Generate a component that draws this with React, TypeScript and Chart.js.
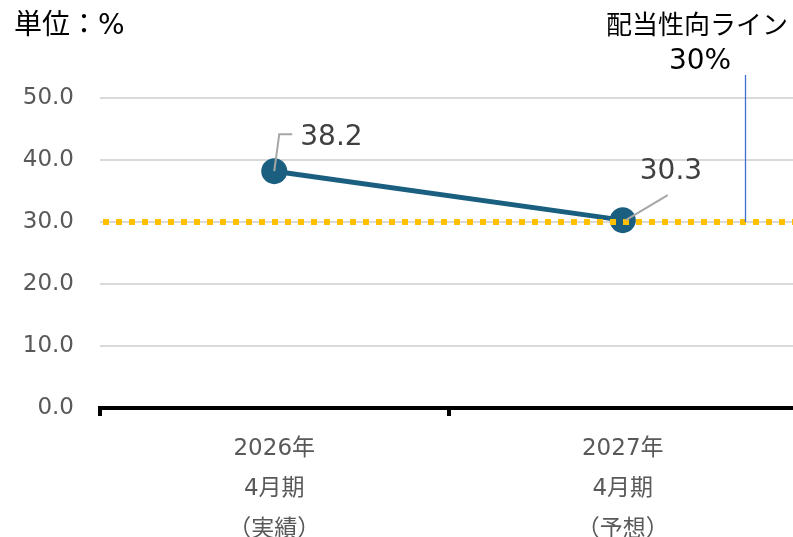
import React, { useEffect, useRef } from "react";
import { Chart, registerables } from "chart.js";

Chart.register(...registerables);

const categories: string[][] = [
  ["2026年", "4月期", "（実績）"],
  ["2027年", "4月期", "（予想）"],
];
const payoutRatio: number[] = [38.2, 30.3];
const thresholdValue = 30;
const yTicksMax = 50;
const yStep = 10;
const unitLabel = "単位：%";
const thresholdLabel = ["配当性向ライン", "30%"];

const FONT = "'DejaVu Sans', 'Noto Sans CJK JP', sans-serif";

const overlayPlugin = {
  id: "overlay",
  afterDatasetsDraw(chart: any) {
    const { ctx, chartArea, scales } = chart;
    const xs = scales.x;
    const ys = scales.y;
    const yT = ys.getPixelForValue(thresholdValue);
    ctx.save();
    // dotted threshold line
    ctx.strokeStyle = "#FFC000";
    ctx.lineWidth = 6;
    ctx.setLineDash([6, 7]);
    ctx.beginPath();
    ctx.moveTo(chartArea.left + 3, yT);
    ctx.lineTo(chartArea.right, yT);
    ctx.stroke();
    ctx.setLineDash([]);

    // leader lines and value labels
    const meta = chart.getDatasetMeta(0);
    const p0 = meta.data[0];
    const p1 = meta.data[1];
    ctx.strokeStyle = "#A6A6A6";
    ctx.lineWidth = 2;
    ctx.beginPath();
    ctx.moveTo(p0.x, p0.y);
    ctx.lineTo(p0.x + 5, p0.y - 37);
    ctx.lineTo(p0.x + 18, p0.y - 37);
    ctx.stroke();
    ctx.beginPath();
    ctx.moveTo(p1.x + 3, p1.y);
    ctx.lineTo(p1.x + 45, p1.y - 25);
    ctx.stroke();

    ctx.fillStyle = "#404040";
    ctx.font = `28px ${FONT}`;
    ctx.textBaseline = "middle";
    ctx.textAlign = "left";
    ctx.fillText(payoutRatio[0].toFixed(1), p0.x + 26, p0.y - 33);
    ctx.fillText(payoutRatio[1].toFixed(1), p1.x + 17, p1.y - 48);

    // blue leader line for threshold label
    const cw = xs.getPixelForValue(1) - xs.getPixelForValue(0);
    const bx = Math.round(xs.getPixelForValue(1) + 0.352 * cw) + 0.5;
    ctx.strokeStyle = "#3F6FD0";
    ctx.lineWidth = 1.3;
    ctx.beginPath();
    ctx.moveTo(bx, 75);
    ctx.lineTo(bx, yT);
    ctx.stroke();

    // texts
    ctx.fillStyle = "#000000";
    ctx.font = `28px ${FONT}`;
    ctx.textAlign = "left";
    ctx.fillText(unitLabel, 14, 27);
    ctx.font = `26px ${FONT}`;
    ctx.textAlign = "center";
    ctx.fillText(thresholdLabel[0], 697, 27);
    ctx.font = `28px ${FONT}`;
    ctx.fillText(thresholdLabel[1], 700, 62);
    ctx.restore();
  },
};

export default function App() {
  const ref = useRef<HTMLCanvasElement>(null);
  useEffect(() => {
    if (!ref.current) return;
    const chart = new Chart(ref.current, {
      type: "line",
      data: {
        labels: categories,
        datasets: [
          {
            data: payoutRatio,
            borderColor: "#1A5F80",
            backgroundColor: "#1A5F80",
            borderWidth: 5,
            pointRadius: 13,
            pointHoverRadius: 13,
            pointBackgroundColor: "#1A5F80",
            pointBorderWidth: 0,
          },
        ],
      },
      options: {
        animation: false,
        responsive: true,
        maintainAspectRatio: false,
        layout: { padding: { top: 98, right: 10, left: 0, bottom: 0 } },
        plugins: { legend: { display: false }, tooltip: { enabled: false } },
        scales: {
          x: {
            offset: true,
            afterFit: (s: any) => {
              s.height = 129;
            },
            grid: {
              offset: true,
              drawOnChartArea: false,
              drawTicks: true,
              tickLength: 8,
              color: "#000000",
              lineWidth: 4,
            },
            border: { display: true, color: "#000000", width: 4 },
            ticks: {
              color: "#595959",
              font: { family: FONT, size: 23, lineHeight: 1.75 },
              padding: 13,
              maxRotation: 0,
            },
          },
          y: {
            min: 0,
            max: yTicksMax,
            afterFit: (s: any) => {
              s.width = 100;
            },
            grid: { color: "#D9D9D9", lineWidth: 2, drawTicks: false },
            border: { display: false },
            ticks: {
              stepSize: yStep,
              color: "#595959",
              padding: 26,
              font: { family: FONT, size: 23 },
              callback: (v: any) => Number(v).toFixed(1),
            },
          },
        },
      },
      plugins: [overlayPlugin],
    });
    return () => chart.destroy();
  }, []);
  return (
    <div style={{ position: "fixed", left: 0, top: 0, width: 793, height: 537, overflow: "hidden", background: "#fff" }}>
      <div style={{ position: "relative", width: 810, height: 537 }}>
        <canvas ref={ref} />
      </div>
    </div>
  );
}
